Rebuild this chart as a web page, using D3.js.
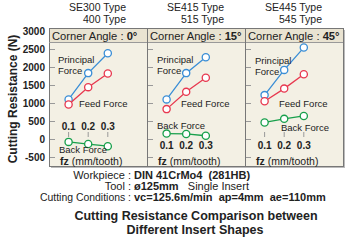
<!DOCTYPE html>
<html>
<head>
<meta charset="utf-8">
<script src="https://cdn.jsdelivr.net/npm/d3@7"></script>
<style>
  body { margin: 0; background: #fff; }
  text { font-family: "Liberation Sans", Arial, sans-serif; fill: #222; }
</style>
</head>
<body>
<div id="chart"></div>
<script>
// data
const fzValues = [0.1, 0.2, 0.3];
const panelTypes = [["SE300 Type", "400 Type"], ["SE415 Type", "515 Type"], ["SE445 Type", "545 Type"]];
const cornerAngles = ["0°", "15°", "45°"];
const principalForce = [[1100, 1830, 2380], [1100, 1830, 2270], [1220, 1920, 2540]];
const feedForce = [[960, 1440, 1820], [830, 1310, 1700], [1050, 1400, 1800]];
const backForce = [[-80, -140, -200], [150, 140, 90], [460, 560, 640]];
const yTicks = [-500, 0, 500, 1000, 1500, 2000, 2500, 3000];

const W = 352, H = 250;
const boxL = 49, boxR = 343, boxT = 28, boxB = 166, headH = 14;
const panelW = (boxR - boxL) / 3;

const svg = d3.select("#chart").append("svg")
  .attr("width", W).attr("height", H);

const y = d3.scaleLinear().domain([-500, 3000]).range([157, 31]);
const x = d3.scaleLinear().domain([0, 0.5]).range([0, panelW]);

// shadow + box
svg.append("rect").attr("x", boxL + 2).attr("y", boxT + 2)
  .attr("width", boxR - boxL).attr("height", boxB - boxT).attr("fill", "#bbb");
svg.append("rect").attr("x", boxL + 0.5).attr("y", boxT + 0.5)
  .attr("width", boxR - boxL).attr("height", boxB - boxT)
  .attr("fill", "#f3f0e4").attr("stroke", "#777").attr("stroke-width", 1);

// y axis labels
svg.append("g").selectAll("text").data(yTicks).join("text")
  .attr("x", 45).attr("y", d => y(d) + 3.5)
  .attr("text-anchor", "end").attr("font-size", 10).attr("font-weight", "bold")
  .text(d => d);

svg.append("text")
  .attr("transform", `translate(17,${(boxT + boxB) / 2 + 2}) rotate(-90)`)
  .attr("text-anchor", "middle").attr("font-size", 12).attr("font-weight", "bold")
  .text("Cutting Resistance (N)");

const series = [
  { name: "principal", data: principalForce, color: "#3a8ed6" },
  { name: "feed", data: feedForce, color: "#e8384f" },
  { name: "back", data: backForce, color: "#18a04c" }
];

// label positions relative to panel left
const labelPos = [
  { pr: [9, 63], feed: [30, 107], back: [10, 153] },
  { pr: [10, 63], feed: [34, 107], back: [10, 129] },
  { pr: [10, 64], feed: [34, 107], back: [36, 131] }
];

for (let p = 0; p < 3; p++) {
  const x0 = boxL + p * panelW;
  const g = svg.append("g").attr("transform", `translate(${x0},0)`);

  // header band
  g.append("rect").attr("x", 1).attr("y", boxT + 1)
    .attr("width", panelW - 1).attr("height", headH)
    .attr("fill", "#e9e3d1");
  g.append("line").attr("x1", 0).attr("x2", panelW)
    .attr("y1", boxT + headH + 0.5).attr("y2", boxT + headH + 0.5)
    .attr("stroke", "#999");
  if (p > 0) {
    g.append("line").attr("x1", 0.5).attr("x2", 0.5)
      .attr("y1", boxT).attr("y2", boxB).attr("stroke", "#777");
  }
  const head = g.append("text").attr("x", 3).attr("y", boxT + 11.5)
    .attr("font-size", 11.2);
  head.append("tspan").text("Corner Angle : ");
  head.append("tspan").attr("font-weight", "bold").text(cornerAngles[p]);

  // type labels above
  const cx = panelW / 2 + 28;
  panelTypes[p].forEach((t, i) => {
    g.append("text").attr("x", cx).attr("y", 11 + i * 12)
      .attr("text-anchor", "end").attr("font-size", 10.5).text(t);
  });

  // y ticks inside panel
  g.append("g").selectAll("line").data(yTicks.filter(d => d < 3000)).join("line")
    .attr("x1", 1).attr("x2", 6)
    .attr("y1", d => Math.round(y(d)) + 0.5).attr("y2", d => Math.round(y(d)) + 0.5)
    .attr("stroke", "#999");

  // x ticks at zero
  g.append("g").selectAll("line").data(fzValues).join("line")
    .attr("x1", d => x(d)).attr("x2", d => x(d))
    .attr("y1", y(0) - 7).attr("y2", y(0) - 2)
    .attr("stroke", "#999");
  g.append("g").selectAll("text").data(fzValues).join("text")
    .attr("x", d => x(d)).attr("y", p === 0 ? y(0) - 9 : y(0) + 10)
    .attr("text-anchor", "middle").attr("font-size", 10).attr("font-weight", "bold")
    .text(d => d.toFixed(1));

  const fz = g.append("text").attr("x", 11).attr("y", boxB - 1.5).attr("font-size", 10.5);
  fz.append("tspan").attr("font-weight", "bold").text("fz");
  fz.append("tspan").text(" (mm/tooth)");

  // lines + markers
  const line = d3.line().x((d, i) => x(fzValues[i])).y(d => y(d));
  series.forEach(s => {
    g.append("path").datum(s.data[p]).attr("d", line)
      .attr("fill", "none").attr("stroke", s.color).attr("stroke-width", 1.3);
    g.append("g").selectAll("circle").data(s.data[p]).join("circle")
      .attr("cx", (d, i) => x(fzValues[i])).attr("cy", d => y(d)).attr("r", 3.6)
      .attr("fill", "#fff").attr("stroke", s.color).attr("stroke-width", 1.3);
  });

  const lp = labelPos[p];
  g.append("text").attr("x", lp.pr[0]).attr("y", lp.pr[1]).attr("font-size", 9.5).text("Principal");
  g.append("text").attr("x", lp.pr[0]).attr("y", lp.pr[1] + 11).attr("font-size", 9.5).text("Force");
  g.append("text").attr("x", lp.feed[0]).attr("y", lp.feed[1]).attr("font-size", 9.5).text("Feed Force");
  g.append("text").attr("x", lp.back[0]).attr("y", lp.back[1]).attr("font-size", 9.5).text("Back Force");
}

// conditions block
const colonX = 131;
function condLine(yy, label, value, labelSize) {
  const t1 = svg.append("text").attr("x", colonX).attr("y", yy)
    .attr("text-anchor", "end").attr("font-size", labelSize).text(label);
  if (labelSize < 11) t1.attr("textLength", 91).attr("lengthAdjust", "spacingAndGlyphs");
  svg.append("text").attr("x", colonX + 3).attr("y", yy)
    .attr("font-size", 11).attr("font-weight", "bold")
    .style("white-space", "pre").text(value);
}
condLine(179, "Workpiece :", "DIN 41CrMo4  (281HB)", 11);
svg.append("text").attr("x", colonX).attr("y", 190)
  .attr("text-anchor", "end").attr("font-size", 11).text("Tool :");
const toolV = svg.append("text").attr("x", colonX + 3).attr("y", 190).attr("font-size", 11)
  .style("white-space", "pre");
toolV.append("tspan").attr("font-weight", "bold").text("ø125mm");
toolV.append("tspan").text("   Single Insert");
condLine(201, "Cutting Conditions :", "vc=125.6m/min  ap=4mm  ae=110mm", 10);

// title
svg.append("text").attr("x", 196).attr("y", 220)
  .attr("text-anchor", "middle").attr("font-size", 12.5).attr("font-weight", "bold")
  .text("Cutting Resistance Comparison between");
svg.append("text").attr("x", 195).attr("y", 234)
  .attr("text-anchor", "middle").attr("font-size", 12.5).attr("font-weight", "bold")
  .text("Different Insert Shapes");
</script>
</body>
</html>
